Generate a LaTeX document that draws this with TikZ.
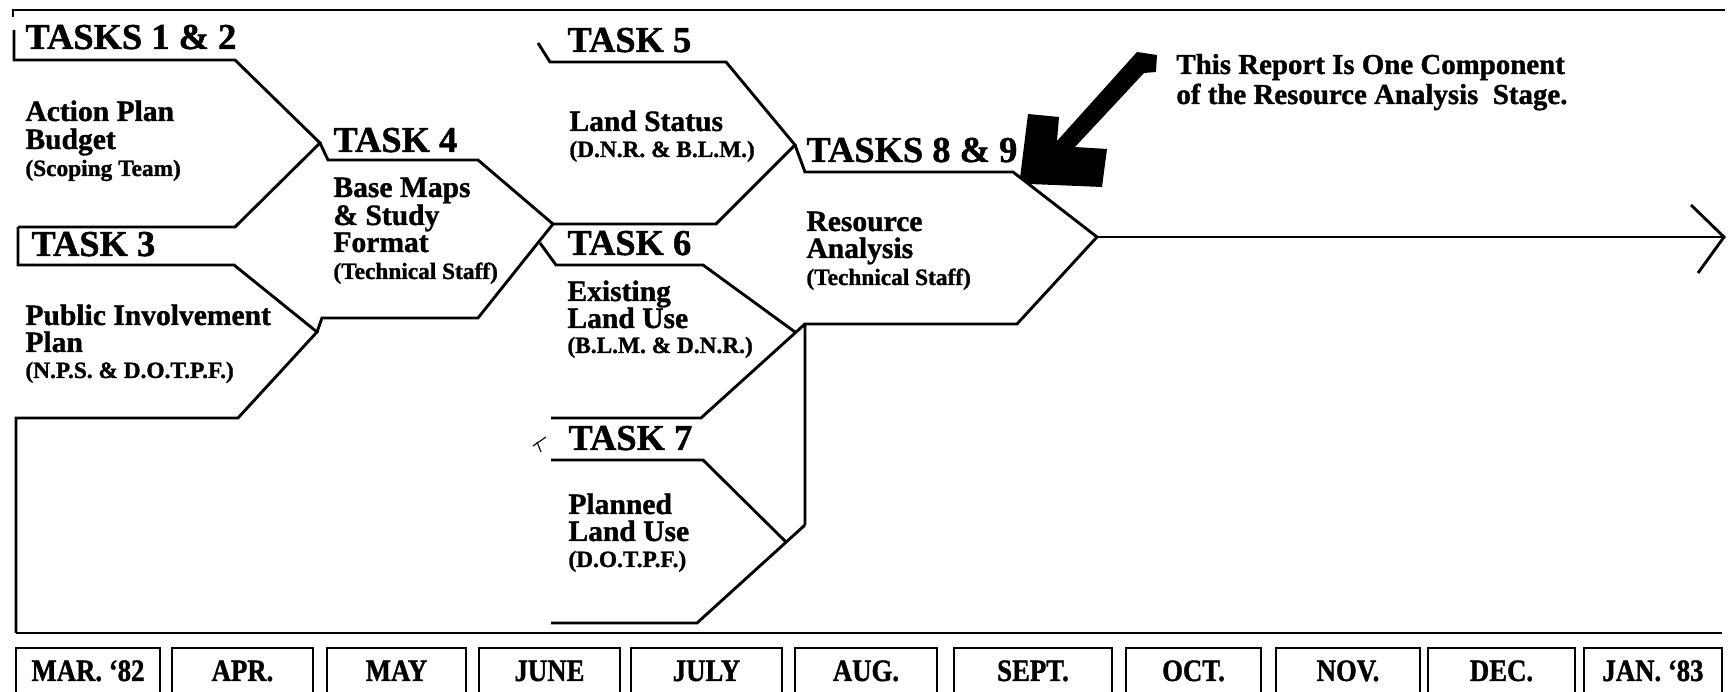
\documentclass[tikz,border=0pt]{standalone}
\usepackage{fontspec}
\setmainfont{Liberation Serif}[BoldFeatures={FakeBold=1.2}]
\newfontfamily\mofam{Liberation Serif}[FakeStretch=0.86, BoldFeatures={FakeBold=1.2}]
\newcommand\hdfont{\fontsize{16.4}{18}\selectfont\bfseries}
\newcommand\bdfont{\fontsize{13.3}{15}\selectfont\bfseries}
\newcommand\sbfont{\fontsize{10.5}{12}\selectfont\bfseries}
\newcommand\anfont{\fontsize{13}{15}\selectfont\bfseries}
\newcommand\mofont{\mofam\fontsize{14}{16}\selectfont\bfseries}
\tikzset{
  ln/.style={line width=1.3pt, line join=miter},
  boxln/.style={line width=0.95pt},
  hd/.style={anchor=base west, inner sep=0pt, font=\hdfont, text height=11pt, text depth=1pt},
  bd/.style={anchor=base west, inner sep=0pt, font=\bdfont, text height=9pt, text depth=2.2pt},
  sb/.style={anchor=base west, inner sep=0pt, font=\sbfont, text height=7.4pt, text depth=2pt},
  an/.style={anchor=base west, inner sep=0pt, font=\anfont, text height=9pt, text depth=2.5pt},
  mo/.style={anchor=base, inner sep=0pt, font=\mofont},
}
\begin{document}
\begin{tikzpicture}[x=0.45pt, y=-0.45pt]
\useasboundingbox (0,0) rectangle (1735,692);
\clip (0,0) rectangle (1735,692);
\fill[white] (0,0) rectangle (1735,692);

% frame lines
\draw[ln] (13,17) -- (13,10) -- (1725,10);
\draw[ln] (16,633) -- (1722,633);

% TASKS 1 & 2
\coordinate (a1) at (320,143);
\draw[ln] (14,30) -- (14,60) -- (235,60) -- (a1) -- (235,227) -- (18,227);
% TASK 3
\coordinate (a3) at (317,332);
\draw[ln] (18,227) -- (18,265) -- (234,265) -- (a3) -- (238,418) -- (16,418) -- (16,633);
% TASK 4
\coordinate (a4) at (553,224);
\draw[ln] (a1) -- (328,160) -- (478,160) -- (a4) -- (478,318) -- (322,318) -- (a3);
% TASK 5
\coordinate (a5) at (795,145);
\draw[ln] (538,43) -- (550,62) -- (726,62) -- (a5) -- (716,224) -- (a4);
% TASK 6
\coordinate (c89) at (805,324);
\draw[ln] (540,243) -- (556,265) -- (703,265) -- (795,332);
\draw[ln] (c89) -- (701,418) -- (551,418);
% TASK 7
\coordinate (c7) at (805,525);
\draw[ln] (551,460) -- (703,460) -- (786,542);
\draw[ln] (c7) -- (697,623) -- (551,623);
% TASKS 8 & 9
\coordinate (a89) at (1097,237);
\draw[ln] (a5) -- (805,172) -- (1013,172) -- (a89) -- (1017,324) -- (c89) -- (c7);
% long arrow
\coordinate (aend) at (1724,237);
\draw[ln] (a89) -- (aend);
\draw[ln] (1691,205) -- (aend) -- (1698,273);

% big black arrow
\fill (1137,52) -- (1157,55) -- (1156,72) -- (1144,73) -- (1075,147) -- (1107,149)
  -- (1102,187) -- (1030,184) -- (1020,178) -- (1028,114) -- (1059,117) -- (1057,141) -- cycle;

% small scribble near TASK 7
\draw[line width=0.5pt] (546,437) -- (533,446);
\draw[line width=0.5pt] (537,442) -- (541,452);

% texts
\node[hd] (h12) at (25,49) {TASKS 1 \& 2};
\node[bd] (b12a) at (25,121) {Action Plan};
\node[bd] (b12b) at (25,149) {Budget};
\node[sb] (b12c) at (25,176) {(Scoping Team)};

\node[hd] (h3) at (31,256) {TASK 3};
\node[bd] (b3a) at (25,325) {Public Involvement};
\node[bd] (b3b) at (25,352) {Plan};
\node[sb] (b3c) at (25,378) {(N.P.S. \& D.O.T.P.F.)};

\node[hd] (h4) at (333,152) {TASK 4};
\node[bd] (b4a) at (333,197) {Base Maps};
\node[bd] (b4b) at (333,225) {\& Study};
\node[bd] (b4c) at (333,252) {Format};
\node[sb] (b4d) at (333,279) {(Technical Staff)};

\node[hd] (h5) at (567,52) {TASK 5};
\node[bd] (b5a) at (569,131) {Land Status};
\node[sb] (b5b) at (569,157) {(D.N.R. \& B.L.M.)};

\node[hd] (h6) at (567,255) {TASK 6};
\node[bd] (b6a) at (567,301) {Existing};
\node[bd] (b6b) at (567,328) {Land Use};
\node[sb] (b6c) at (567,353) {(B.L.M. \& D.N.R.)};

\node[hd] (h7) at (568,450) {TASK 7};
\node[bd] (b7a) at (568,514) {Planned};
\node[bd] (b7b) at (568,541) {Land Use};
\node[sb] (b7c) at (568,567) {(D.O.T.P.F.)};

\node[hd] (h89) at (806,162) {TASKS 8 \& 9};
\node[bd] (b89a) at (806,231) {Resource};
\node[bd] (b89b) at (806,258) {Analysis};
\node[sb] (b89c) at (806,285) {(Technical Staff)};

\node[an] (n1) at (1176,74) {This Report Is One Component};
\node[an] (n2) at (1176,104) {of the Resource Analysis\ \ Stage.};

% month boxes
\foreach \a/\b/\t [count=\i] in {16/160/{MAR. ‘82}, 172/313/{APR.}, 327/466/{MAY}, 479/620/{JUNE}, 631/782/{JULY}, 795/937/{AUG.}, 954/1112/{SEPT.}, 1126/1261/{OCT.}, 1276/1420/{NOV.}, 1428/1575/{DEC.}, 1584/1722/{JAN. ‘83}} {
  \draw[boxln] (\a,705) -- (\a,648) -- (\b,648) -- (\b,705);
  \node[mo] (m\i) at ({(\a+\b)/2},681) {\t};
}
\end{tikzpicture}
\end{document}
